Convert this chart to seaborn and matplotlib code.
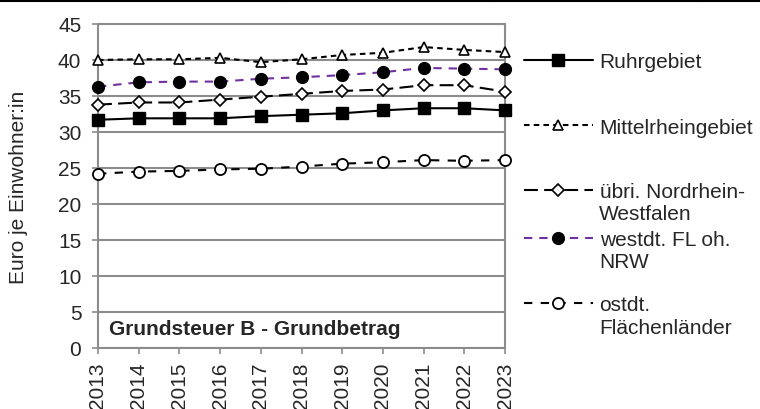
import matplotlib
matplotlib.use("Agg")
import matplotlib.pyplot as plt
from matplotlib.lines import Line2D
import seaborn as sns
import pandas as pd

years = [2013, 2014, 2015, 2016, 2017, 2018, 2019, 2020, 2021, 2022, 2023]
ruhr = [31.7, 31.9, 31.9, 31.9, 32.2, 32.4, 32.6, 33.0, 33.3, 33.3, 33.0]
mittelrhein = [40.0, 40.1, 40.1, 40.3, 39.7, 40.1, 40.7, 41.0, 41.8, 41.4, 41.1]
uebri_nrw = [33.8, 34.1, 34.1, 34.5, 34.9, 35.3, 35.7, 35.9, 36.5, 36.5, 35.6]
westdt = [36.3, 36.9, 37.0, 37.0, 37.4, 37.6, 37.9, 38.3, 38.9, 38.8, 38.7]
ostdt = [24.2, 24.5, 24.6, 24.8, 24.9, 25.2, 25.6, 25.8, 26.1, 26.0, 26.1]

series = [ruhr, mittelrhein, uebri_nrw, westdt, ostdt]
legend_lines = [["Ruhrgebiet"], ["Mittelrheingebiet"], ["übri. Nordrhein-", "Westfalen"],
                ["westdt. FL oh.", "NRW"], ["ostdt.", "Flächenländer"]]
y_ticks = [0, 5, 10, 15, 20, 25, 30, 35, 40, 45]
y_label = "Euro je Einwohner:in"
panel_title = "Grundsteuer B - Grundbetrag"

sns.set_style("white")
plt.rcParams["font.family"] = ["Liberation Sans", "DejaVu Sans"]
plt.rcParams["lines.scale_dashes"] = False
FS = 15
GRAY = "#8c8c8c"

fig = plt.figure(figsize=(7.6, 4.1), dpi=100)
ax = fig.add_axes([98 / 760, 1 - 349 / 410, 407 / 760, 324 / 410])

styles = [
    dict(color="black", linestyle="-", marker="s", ms=8, mfc="black", mec="black", mew=1.0),
    dict(color="black", linestyle=(0, (4, 3)), marker="^", ms=7.5, mfc="white", mec="black", mew=1.2),
    dict(color="black", linestyle=(0, (10, 4.5)), marker="D", ms=5.8, mfc="white", mec="black", mew=1.2),
    dict(color="#7030A0", linestyle=(0, (6, 5)), marker="o", ms=8.5, mfc="black", mec="black", mew=1.0),
    dict(color="black", linestyle=(0, (6, 6)), marker="o", ms=8, mfc="white", mec="black", mew=1.3),
]

handles = []
for vals, st in zip(series, styles):
    df = pd.DataFrame({"Jahr": years, "Wert": vals})
    sns.lineplot(data=df, x="Jahr", y="Wert", ax=ax, lw=1.5, errorbar=None,
                 clip_on=False, zorder=4, **st)
    handles.append(ax.lines[-1])

ax.set_xlim(years[0], years[-1])
ax.set_ylim(0, 45)
ax.set_yticks(y_ticks)
ax.set_xticks(years)
ax.set_xticklabels([str(y) for y in years], rotation=90)
ax.tick_params(axis="y", length=4, width=1.2, color=GRAY, pad=8, labelsize=FS, left=True)
ax.tick_params(axis="x", length=4, width=1.2, color=GRAY, pad=6, labelsize=FS, bottom=True)
ax.yaxis.grid(True, color=GRAY, lw=1.5)
ax.xaxis.grid(False)
for sp in ax.spines.values():
    sp.set_color(GRAY)
    sp.set_linewidth(1.5)
ax.set_xlabel("")
ax.set_ylabel(y_label, fontsize=FS)
ax.yaxis.set_label_coords((28 - 98) / 407, 0.5)

ax.text((109 - 98) / 407, (349 - 330) / 324, panel_title, transform=ax.transAxes,
        fontsize=FS, fontweight="bold", va="center", ha="left")

# legend, one entry at a time (handle aligned with first text line)
entry_y = [63, 128, 193, 241, 306]
for h, lines, y in zip(handles, legend_lines, entry_y):
    fig.legend(handles=[h], labels=[lines[0]], loc="center left",
               bbox_to_anchor=(524 / 760, 1 - y / 410), bbox_transform=fig.transFigure,
               frameon=False, borderpad=0, borderaxespad=0, handlelength=3.3,
               handletextpad=0.33, fontsize=FS)
    for k, extra in enumerate(lines[1:], start=1):
        fig.text(599 / 760, 1 - (y + 22 * k) / 410, extra, fontsize=FS, va="center", ha="left")

# top border line with dividers
fig.add_artist(Line2D([0, 1], [1 - 2 / 410] * 2, transform=fig.transFigure, color="black", lw=1.5))
for xd in [286, 493, 701]:
    fig.add_artist(Line2D([xd / 760] * 2, [1, 1 - 2 / 410], transform=fig.transFigure, color="black", lw=1.0))

fig.savefig("out.png", dpi=100)
